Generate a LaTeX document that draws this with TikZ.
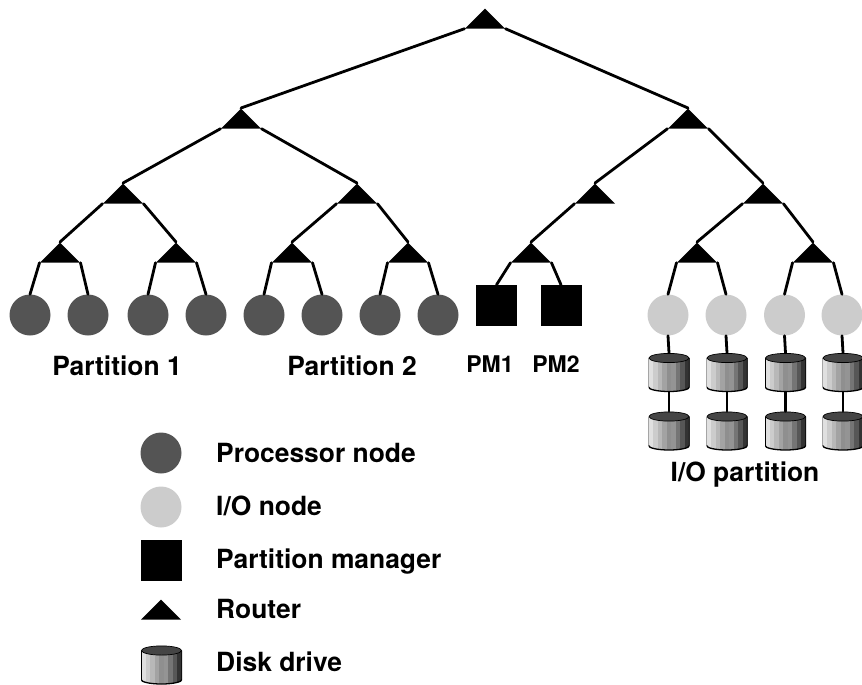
\documentclass[tikz,border=0pt]{standalone}
\usepackage{fontspec}
\setmainfont{TeX Gyre Heros}
\usetikzlibrary{shapes.geometric}

\def \lineSize {2.8pt}
\def \pointSize {41pt}
\def \bb {path picture bounding box}

\tikzset{
  router/.style={isosceles triangle, isosceles triangle stretches, shape border rotate=90,
    anchor=apex, fill=black, inner sep=0pt, minimum width=40pt, minimum height=20pt},
  procNode/.style={circle, fill=procGray, inner sep=0pt, minimum size=\pointSize},
  ioNode/.style={circle, fill=ioGray, inner sep=0pt, minimum size=\pointSize},
  pmNode/.style={rectangle, fill=black, inner sep=0pt, minimum size=\pointSize},
  disk/.style={rectangle, inner sep=0pt, minimum width=41pt, minimum height=39pt, path picture={
      \begin{scope}
        \clip ([yshift=-5pt]\bb.north west) -- ([yshift=5pt]\bb.south west)
          arc[start angle=180, end angle=360, x radius=20.5pt, y radius=4.5pt]
          -- ([yshift=-5pt]\bb.north east) -- cycle;
        \foreach \band/\shadeVal in {0/12,1/20,2/28,3/36,4/44,5/42,6/54,7/66,8/80}
          \fill[black!\shadeVal!white]
            ([xshift=\band*4.5pt]\bb.south west) rectangle
            ([xshift=\band*4.5pt+5pt]\bb.north west);
      \end{scope}
      \draw[line width=1.3pt] ([yshift=5pt]\bb.south west)
        arc[start angle=180, end angle=360, x radius=20.5pt, y radius=4.5pt]
        -- ([yshift=-5pt]\bb.north east);
      \draw[line width=0.6pt] ([yshift=5pt]\bb.south west) -- ([yshift=-5pt]\bb.north west);
      \filldraw[fill=diskTop, draw=black, line width=0.7pt]
        ([yshift=-5pt]\bb.north) ellipse (20pt and 4.6pt);
    }},
  link/.style={line width=\lineSize, line cap=round},
  bigLabel/.style={font=\fontsize{26.4}{30}\selectfont\bfseries, inner sep=0pt},
  smallLabel/.style={font=\fontsize{23}{27}\selectfont\bfseries, inner sep=0pt},
  keyLabel/.style={bigLabel, anchor=west}
}
\definecolor{procGray}{gray}{0.33}
\definecolor{ioGray}{gray}{0.8}
\definecolor{diskTop}{gray}{0.27}

\begin{document}
\begin{tikzpicture}[x=1pt, y=-1pt]
  \useasboundingbox (0,0) rectangle (862,685);

  \node[router] (root) at (485,8) {};
  \node[router] (rL) at (241,108) {};
  \node[router] (rR) at (688,108) {};
  \node[router] (rLL) at (123,183) {};
  \node[router] (rLR) at (357,183) {};
  \node[router] (rRL) at (595,183) {};
  \node[router] (rRR) at (763,183) {};
  \node[router] (r1) at (60,242) {};
  \node[router] (r2) at (176,242) {};
  \node[router] (r3) at (292,242) {};
  \node[router] (r4) at (408,242) {};
  \node[router] (r5) at (531,242) {};
  \node[router] (r6) at (697,242) {};
  \node[router] (r7) at (813,242) {};

  \node[procNode] (p1) at (30,315) {};
  \node[procNode] (p2) at (88,315) {};
  \node[procNode] (p3) at (148,315) {};
  \node[procNode] (p4) at (206,315) {};
  \node[procNode] (p5) at (264,315) {};
  \node[procNode] (p6) at (322,315) {};
  \node[procNode] (p7) at (380,315) {};
  \node[procNode] (p8) at (438,315) {};
  \node[pmNode] (pm1) at (496.5,305.5) {};
  \node[pmNode] (pm2) at (561,305.5) {};
  \node[ioNode] (io1) at (668,315) {};
  \node[ioNode] (io2) at (726,315) {};
  \node[ioNode] (io3) at (784.5,315) {};
  \node[ioNode] (io4) at (842,315) {};

  \node[disk] (d1) at (669,372.5) {};
  \node[disk] (d2) at (727,372.5) {};
  \node[disk] (d3) at (785.5,372.5) {};
  \node[disk] (d4) at (843,372.5) {};
  \node[disk] (d5) at (669,431) {};
  \node[disk] (d6) at (727,431) {};
  \node[disk] (d7) at (785.5,431) {};
  \node[disk] (d8) at (843,431) {};

  \draw[link] (root.left corner) -- (rL.apex);
  \draw[link] (root.right corner) -- (rR.apex);
  \draw[link] (rL.left corner) -- (rLL.apex);
  \draw[link] (rL.right corner) -- (rLR.apex);
  \draw[link] (rR.left corner) -- (rRL.apex);
  \draw[link] (rR.right corner) -- (rRR.apex);
  \draw[link] (rLL.left corner) -- (r1.apex);
  \draw[link] (rLL.right corner) -- (r2.apex);
  \draw[link] (rLR.left corner) -- (r3.apex);
  \draw[link] (rLR.right corner) -- (r4.apex);
  \draw[link] (rRL.left corner) -- (r5.apex);
  \draw[link] (rRR.left corner) -- (r6.apex);
  \draw[link] (rRR.right corner) -- (r7.apex);
  \draw[link] (r1.left corner) -- (p1.north);
  \draw[link] (r1.right corner) -- (p2.north);
  \draw[link] (r2.left corner) -- (p3.north);
  \draw[link] (r2.right corner) -- (p4.north);
  \draw[link] (r3.left corner) -- (p5.north);
  \draw[link] (r3.right corner) -- (p6.north);
  \draw[link] (r4.left corner) -- (p7.north);
  \draw[link] (r4.right corner) -- (p8.north);
  \draw[link] (r5.left corner) -- (pm1.north);
  \draw[link] (r5.right corner) -- (pm2.north);
  \draw[link] (r6.left corner) -- (io1.north);
  \draw[link] (r6.right corner) -- (io2.north);
  \draw[link] (r7.left corner) -- (io3.north);
  \draw[link] (r7.right corner) -- (io4.north);
  \draw[link] (io1.south) -- (d1.north);
  \draw[link] (io2.south) -- (d2.north);
  \draw[link] (io3.south) -- (d3.north);
  \draw[link] (io4.south) -- (d4.north);
  \draw[link] (d1.south) -- (d5.north);
  \draw[link] (d2.south) -- (d6.north);
  \draw[link] (d3.south) -- (d7.north);
  \draw[link] (d4.south) -- (d8.north);

  \node[bigLabel] (part1) at (117,366) {Partition 1};
  \node[bigLabel] (part2) at (352,366) {Partition 2};
  \node[smallLabel] (pmLabel1) at (490,364) {PM1};
  \node[smallLabel] (pmLabel2) at (556,364) {PM2};
  \node[bigLabel] (ioPart) at (745,475) {I/O partition};

  \node[procNode] (keyProc) at (161,453) {};
  \node[ioNode] (keyIo) at (161,507) {};
  \node[pmNode] (keyPm) at (161,560) {};
  \node[router] (keyRouter) at (161,599) {};
  \node[disk] (keyDisk) at (161.5,665) {};

  \node[keyLabel] (keyText1) at (216,453) {Processor node};
  \node[keyLabel] (keyText2) at (216,506) {I/O node};
  \node[keyLabel] (keyText3) at (216,562) {Partition manager};
  \node[keyLabel] (keyText4) at (216,609) {Router};
  \node[keyLabel] (keyText5) at (216,662) {Disk drive};
\end{tikzpicture}
\end{document}
